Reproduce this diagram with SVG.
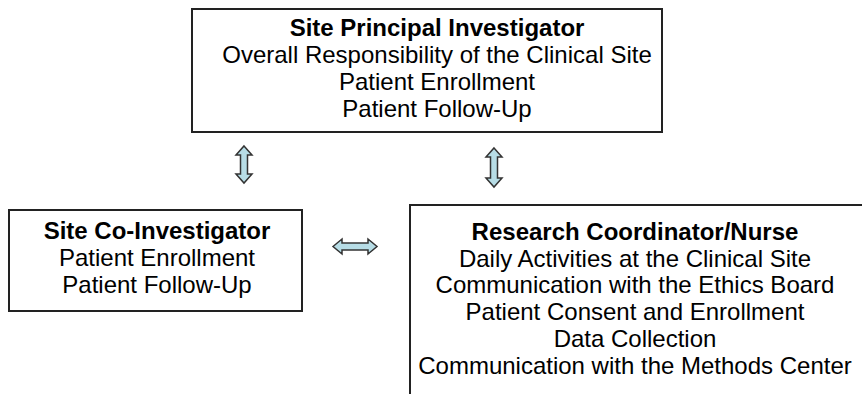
<svg xmlns="http://www.w3.org/2000/svg" width="862" height="394" viewBox="0 0 862 394">
<style>
.box{fill:#fff;stroke:#222;stroke-width:2}
text{font-family:"Liberation Sans",Arial,sans-serif;font-size:24px;fill:#000;text-anchor:middle}
.t{font-weight:bold}
.arr{fill:#b7dde6;stroke:#333;stroke-width:1.5;stroke-linejoin:miter}
</style>
<rect width="862" height="394" fill="#fff"/>
<g id="pi">
<rect class="box" x="192" y="9" width="470" height="123"/>
<text class="t" x="437" y="36">Site Principal Investigator</text>
<text x="437" y="63">Overall Responsibility of the Clinical Site</text>
<text x="437" y="90">Patient Enrollment</text>
<text x="437" y="117">Patient Follow-Up</text>
</g>
<g id="coi">
<rect class="box" x="9" y="210" width="293" height="101"/>
<text class="t" x="157" y="239">Site Co-Investigator</text>
<text x="157" y="266">Patient Enrollment</text>
<text x="157" y="293">Patient Follow-Up</text>
</g>
<g id="rc">
<rect class="box" x="410" y="205" width="470" height="200"/>
<text class="t" x="635" y="240">Research Coordinator/Nurse</text>
<text x="635" y="267">Daily Activities at the Clinical Site</text>
<text x="635" y="293">Communication with the Ethics Board</text>
<text x="635" y="320">Patient Consent and Enrollment</text>
<text x="635" y="347">Data Collection</text>
<text x="635" y="374">Communication with the Methods Center</text>
</g>
<g id="connectors">
<polygon class="arr" points="244,146 252,155 247.5,155 247.5,174 252,174 244,183 236,174 240.5,174 240.5,155 236,155"/>
<polygon class="arr" points="494,148 502,157 497.5,157 497.5,178 502,178 494,187 486,178 490.5,178 490.5,157 486,157"/>
<polygon class="arr" points="333,246.5 342,239 342,243 368,243 368,239 377,246.5 368,254 368,250 342,250 342,254"/>
</g>
</svg>
